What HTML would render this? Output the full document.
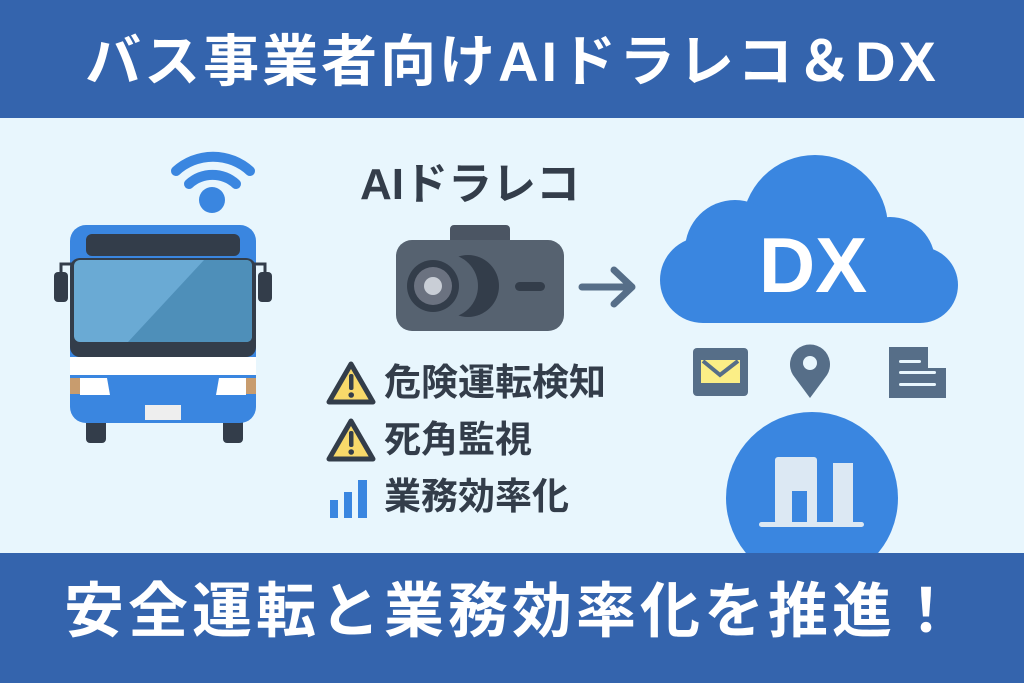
<!DOCTYPE html>
<html><head><meta charset="utf-8"><style>
body{margin:0;width:1024px;height:683px;overflow:hidden;background:#e8f6fd;font-family:"Liberation Sans","Noto Sans CJK JP",sans-serif;position:relative}
.band{position:absolute;left:0;width:1024px;background:#3464ad;color:#fff;text-align:center;font-weight:bold;z-index:2}
.t{position:absolute;font-weight:bold;color:#333d4a;white-space:nowrap}
</style></head><body>
<div class="band" style="top:0;height:118px;line-height:124px;font-size:56px;letter-spacing:3px">バス事業者向けAIドラレコ＆DX</div>
<svg width="1024" height="683" style="position:absolute;left:0;top:0;z-index:1">
<path d="M176 171 A55 55 0 0 1 250 171" stroke="#3a86e0" stroke-width="10" fill="none" stroke-linecap="round"/>
<path d="M189 184 A35 35 0 0 1 236 184" stroke="#3a86e0" stroke-width="10" fill="none" stroke-linecap="round"/>
<circle cx="212" cy="200" r="13" fill="#3a86e0"/>
<rect x="86" y="410" width="20" height="33" rx="4" fill="#333d4a"/>
<rect x="223" y="410" width="20" height="33" rx="4" fill="#333d4a"/>
<rect x="70" y="225" width="186" height="198" rx="16" fill="#3a86e0"/>
<rect x="86" y="234" width="154" height="22" rx="6" fill="#333d4a"/>
<rect x="70" y="258" width="186" height="99" rx="10" fill="#333d4a"/>
<rect x="74" y="260" width="178" height="82" rx="6" fill="#6aaad4"/>
<path d="M204 260 L246 260 Q252 260 252 266 L252 336 Q252 342 246 342 L128 342 Z" fill="#4e8fb9"/>
<rect x="70" y="357" width="186" height="18" fill="#fff"/>
<rect x="70" y="378" width="10" height="16" fill="#c89c6e"/>
<rect x="246" y="378" width="10" height="16" fill="#c89c6e"/>
<path d="M80 378 L107 378 L110 395 L80 395 Z" fill="#fff"/>
<path d="M246 378 L219 378 L216 395 L246 395 Z" fill="#fff"/>
<rect x="145" y="405" width="36" height="15" fill="#eee"/>
<rect x="54" y="272" width="14" height="30" rx="4" fill="#333d4a"/>
<rect x="258" y="272" width="14" height="30" rx="4" fill="#333d4a"/>
<path d="M61 272 L61 264 L72 264" stroke="#333d4a" stroke-width="3" fill="none"/>
<path d="M265 272 L265 264 L254 264" stroke="#333d4a" stroke-width="3" fill="none"/>
<rect x="450" y="225" width="60" height="22" rx="4" fill="#4b5563"/>
<rect x="396" y="240" width="168" height="91" rx="16" fill="#566270"/>
<circle cx="468" cy="286" r="31" fill="#333d4a"/>
<circle cx="446" cy="286" r="32" fill="#566270"/>
<circle cx="433" cy="286" r="26" fill="#333d4a"/>
<circle cx="433" cy="286" r="19" fill="#6b7280"/>
<circle cx="433" cy="286" r="9" fill="#c9ced6"/>
<rect x="515" y="282" width="30" height="9" rx="4.5" fill="#333d4a"/>
<path d="M582 287 L632 287 M614 270 L632 287 L614 304" stroke="#566e88" stroke-width="7" fill="none" stroke-linecap="round" stroke-linejoin="round"/>
<g id="w"><path d="M351 364 L373 402 L329 402 Z" fill="#f8d96a" stroke="#333d4a" stroke-width="5" stroke-linejoin="round"/>
<rect x="349" y="374" width="4.5" height="16" rx="2" fill="#333d4a"/><circle cx="351.2" cy="395" r="2.8" fill="#333d4a"/></g>
<use href="#w" y="57"/>
<rect x="330" y="500" width="8" height="18" fill="#3a86e0"/>
<rect x="344" y="492" width="8" height="26" fill="#3a86e0"/>
<rect x="358" y="480" width="9" height="38" fill="#3a86e0"/>
<g fill="#3a86e0">
<circle cx="815" cy="228" r="73"/>
<circle cx="735" cy="250" r="50"/>
<circle cx="890" cy="262" r="45"/>
<circle cx="703" cy="280" r="43"/>
<circle cx="920" cy="285" r="38"/>
<rect x="703" y="255" width="217" height="68"/>
</g>
<text x="813" y="292" font-size="78" font-weight="bold" fill="#fff" text-anchor="middle" font-family="Liberation Sans">DX</text>
<rect x="693" y="348" width="55" height="48" rx="4" fill="#566e88"/>
<rect x="701" y="360" width="39" height="23" fill="#fbee86"/>
<path d="M703 361 L720 375 L738 361" stroke="#566e88" stroke-width="4" fill="none"/>
<path d="M810 398 L793 375 A20 20 0 1 1 827 375 Z" fill="#566e88"/>
<circle cx="810" cy="363" r="7" fill="#e8f6fd"/>
<path d="M889 347 L928 347 L928 368 L946 368 L946 398 L889 398 Z" fill="#566e88"/>
<rect x="899" y="360" width="22" height="3" rx="1.5" fill="#e8f6fd"/>
<rect x="899" y="371" width="37" height="3" rx="1.5" fill="#e8f6fd"/>
<rect x="899" y="383" width="37" height="3" rx="1.5" fill="#e8f6fd"/>
<circle cx="812" cy="498" r="86" fill="#3a86e0"/>
<rect x="775" y="457" width="42" height="67" rx="3" fill="#dce8f3"/>
<rect x="833" y="463" width="20" height="61" fill="#dce8f3"/>
<rect x="792" y="491" width="15" height="33" fill="#3a86e0"/>
<rect x="759" y="522" width="105" height="5" rx="2.5" fill="#dce8f3"/>
</svg>
<div class="band" style="top:553px;height:130px;line-height:118px;font-size:60px;letter-spacing:4px">安全運転と業務効率化を推進！</div>
<div class="t" style="left:360px;top:160px;font-size:44px;line-height:50px;z-index:3">AIドラレコ</div>
<div class="t" style="left:384px;top:362px;font-size:37px;line-height:42px;z-index:3">危険運転検知</div>
<div class="t" style="left:384px;top:419px;font-size:37px;line-height:42px;z-index:3">死角監視</div>
<div class="t" style="left:384px;top:476px;font-size:37px;line-height:42px;z-index:3">業務効率化</div>
</body></html>
